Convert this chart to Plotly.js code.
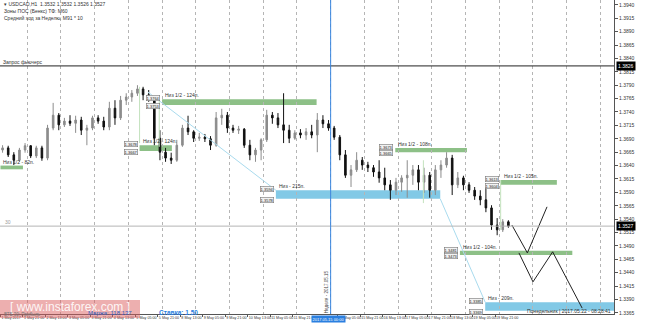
<!DOCTYPE html>
<html><head><meta charset="utf-8">
<script src="https://cdn.plot.ly/plotly-3.0.1.min.js"></script>
<style>html,body{margin:0;padding:0;background:#fff;}#chart{width:665px;height:324px;}</style>
</head><body><div id="chart"></div>
<script>
// ---- H4-aggregated USDCAD candles ----
const candleTime = [
'2017-05-01 06:30','2017-05-01 10:30','2017-05-01 14:30','2017-05-01 18:30','2017-05-01 22:30',
'2017-05-02 02:30','2017-05-02 06:30','2017-05-02 10:30','2017-05-02 14:30','2017-05-02 18:30','2017-05-02 22:30',
'2017-05-03 02:30','2017-05-03 06:30','2017-05-03 10:30','2017-05-03 14:30','2017-05-03 18:30','2017-05-03 22:30',
'2017-05-04 02:30','2017-05-04 06:30','2017-05-04 10:30','2017-05-04 14:30','2017-05-04 18:30','2017-05-04 22:30',
'2017-05-05 02:30','2017-05-05 06:30','2017-05-05 10:30','2017-05-05 14:30','2017-05-05 18:30','2017-05-05 22:30',
'2017-05-08 02:30','2017-05-08 06:30','2017-05-08 10:30','2017-05-08 14:30','2017-05-08 18:30','2017-05-08 22:30',
'2017-05-09 02:30','2017-05-09 06:30','2017-05-09 10:30','2017-05-09 14:30','2017-05-09 18:30','2017-05-09 22:30',
'2017-05-10 02:30','2017-05-10 06:30','2017-05-10 10:30','2017-05-10 14:30','2017-05-10 18:30','2017-05-10 22:30',
'2017-05-11 02:30','2017-05-11 06:30','2017-05-11 10:30','2017-05-11 14:30','2017-05-11 18:30','2017-05-11 22:30',
'2017-05-12 02:30','2017-05-12 06:30','2017-05-12 10:30','2017-05-12 14:30','2017-05-12 18:30','2017-05-12 22:30',
'2017-05-15 02:30','2017-05-15 06:30','2017-05-15 10:30','2017-05-15 14:30','2017-05-15 18:30','2017-05-15 22:30',
'2017-05-16 02:30','2017-05-16 06:30','2017-05-16 10:30','2017-05-16 14:30','2017-05-16 18:30','2017-05-16 22:30',
'2017-05-17 02:30','2017-05-17 06:30','2017-05-17 10:30','2017-05-17 14:30','2017-05-17 18:30','2017-05-17 22:30',
'2017-05-18 02:30','2017-05-18 06:30','2017-05-18 10:30','2017-05-18 14:30','2017-05-18 18:30','2017-05-18 22:30',
'2017-05-19 02:30','2017-05-19 06:30','2017-05-19 10:30','2017-05-19 14:30','2017-05-19 18:30','2017-05-19 22:30',
'2017-05-22 02:30','2017-05-22 06:30'];
const openP = [
1.3669,1.3673,1.3660,1.3650,1.3669,1.3677,1.3658,1.3673,1.3654,1.3710,
1.3734,1.3716,1.3723,1.3719,1.3725,1.3706,1.3710,1.3729,1.3723,1.3712,
1.3747,1.3729,1.3762,1.3768,1.3775,1.3783,1.3772,1.3762,1.3691,1.3665,
1.3654,1.3650,1.3678,1.3710,1.3703,1.3691,1.3693,1.3690,1.3678,1.3729,
1.3734,1.3710,1.3706,1.3708,1.3678,1.3660,1.3669,1.3688,1.3734,1.3729,
1.3716,1.3706,1.3691,1.3701,1.3697,1.3703,1.3697,1.3725,1.3718,1.3710,
1.3693,1.3660,1.3622,1.3632,1.3650,1.3641,1.3636,1.3628,1.3617,1.3604,
1.3594,1.3609,1.3617,1.3622,1.3632,1.3609,1.3622,1.3594,1.3632,1.3641,
1.3654,1.3604,1.3617,1.3604,1.3594,1.3583,1.3576,1.3561,1.3529,1.3520,
1.3535];
const highP = [
1.3678,1.3677,1.3665,1.3673,1.3682,1.3678,1.3677,1.3677,1.3716,1.3757,
1.3738,1.3729,1.3734,1.3733,1.3731,1.3716,1.3733,1.3734,1.3731,1.3759,
1.3762,1.3770,1.3775,1.3781,1.3790,1.3787,1.3781,1.3766,1.3706,1.3673,
1.3664,1.3688,1.3716,1.3733,1.3706,1.3701,1.3699,1.3695,1.3740,1.3746,
1.3740,1.3716,1.3714,1.3710,1.3688,1.3673,1.3691,1.3744,1.3740,1.3738,
1.3775,1.3716,1.3706,1.3708,1.3710,1.3716,1.3738,1.3734,1.3725,1.3714,
1.3697,1.3669,1.3641,1.3665,1.3656,1.3647,1.3641,1.3650,1.3636,1.3613,
1.3617,1.3622,1.3650,1.3641,1.3641,1.3636,1.3628,1.3641,1.3650,1.3665,
1.3660,1.3628,1.3621,1.3609,1.3600,1.3594,1.3600,1.3566,1.3542,1.3540,
1.3538];
const lowP = [
1.3664,1.3656,1.3641,1.3647,1.3664,1.3654,1.3654,1.3649,1.3650,1.3706,
1.3706,1.3712,1.3714,1.3701,1.3697,1.3678,1.3706,1.3718,1.3706,1.3706,
1.3716,1.3725,1.3753,1.3759,1.3770,1.3762,1.3759,1.3678,1.3650,1.3647,
1.3643,1.3647,1.3675,1.3697,1.3684,1.3686,1.3684,1.3669,1.3675,1.3716,
1.3701,1.3701,1.3699,1.3673,1.3650,1.3647,1.3650,1.3684,1.3718,1.3710,
1.3682,1.3682,1.3688,1.3691,1.3688,1.3691,1.3665,1.3710,1.3705,1.3688,
1.3650,1.3617,1.3600,1.3628,1.3632,1.3628,1.3619,1.3608,1.3594,1.3576,
1.3585,1.3591,1.3580,1.3604,1.3594,1.3589,1.3580,1.3585,1.3617,1.3636,
1.3585,1.3598,1.3594,1.3589,1.3576,1.3566,1.3553,1.3520,1.3510,1.3516,
1.3524];
const closeP = [
1.3673,1.3660,1.3650,1.3669,1.3677,1.3658,1.3673,1.3654,1.3710,1.3734,
1.3716,1.3723,1.3719,1.3725,1.3706,1.3710,1.3729,1.3723,1.3712,1.3747,
1.3729,1.3762,1.3768,1.3775,1.3783,1.3772,1.3762,1.3691,1.3665,1.3654,
1.3650,1.3678,1.3710,1.3703,1.3691,1.3693,1.3690,1.3678,1.3729,1.3734,
1.3710,1.3706,1.3708,1.3678,1.3660,1.3669,1.3688,1.3734,1.3729,1.3716,
1.3706,1.3691,1.3701,1.3697,1.3703,1.3697,1.3725,1.3718,1.3710,1.3693,
1.3660,1.3622,1.3632,1.3650,1.3641,1.3636,1.3628,1.3617,1.3604,1.3594,
1.3609,1.3617,1.3622,1.3632,1.3609,1.3622,1.3594,1.3632,1.3641,1.3654,
1.3604,1.3617,1.3604,1.3594,1.3583,1.3576,1.3561,1.3529,1.3520,1.3535,
1.3527];

// ---- axes ----
const xTickVals = ['2017-05-01 05:00','2017-05-01 21:00','2017-05-02 13:00','2017-05-03 05:00','2017-05-03 21:00',
'2017-05-04 13:00','2017-05-05 05:00','2017-05-05 21:00','2017-05-08 13:00','2017-05-09 05:00','2017-05-09 21:00',
'2017-05-10 13:00','2017-05-11 05:00','2017-05-11 21:00','2017-05-15 05:00','2017-05-15 21:00',
'2017-05-16 13:00','2017-05-17 05:00','2017-05-17 21:00','2017-05-18 13:00','2017-05-19 05:00','2017-05-19 21:00'];
const xTickText = ['1 May 2017','1 May 21:00','2 May 13:00','3 May 05:00','3 May 21:00','4 May 13:00','5 May 05:00',
'5 May 21:00','8 May 13:00','9 May 05:00','9 May 21:00','10 May 13:00','11 May 05:00','11 May 21:00',
'15 May 05:00','15 May 21:00','16 May 13:00','17 May 05:00','17 May 21:00','18 May 13:00','19 May 05:00','19 May 21:00'];
const dayGrid = ['2017-05-02','2017-05-03','2017-05-04','2017-05-05','2017-05-08','2017-05-09','2017-05-10',
'2017-05-11','2017-05-12','2017-05-15','2017-05-16','2017-05-17','2017-05-18','2017-05-19','2017-05-22',
'2017-05-23','2017-05-24','2017-05-25'];
const yTickVals = [1.3940,1.3915,1.3890,1.3865,1.3840,1.3815,1.3790,1.3765,1.3740,1.3715,1.3690,1.3665,
1.3640,1.3615,1.3590,1.3565,1.3540,1.3515,1.3490,1.3465,1.3440,1.3415,1.3390,1.3365];
const xRange = ['2017-05-01 04:40','2017-05-25 09:40'];
const yRange = [1.3363, 1.3949];

// ---- levels and drawings ----
const bidPrice = 1.3527;
const futuresPrice = 1.3826;
const weekLineTime = '2017-05-15 00:00';
const zoneStart = ['2017-05-01 05:00','2017-05-08 00:00','2017-05-05 08:00','2017-05-11 09:00','2017-05-16 22:00','2017-05-22 01:00','2017-05-18 20:00','2017-05-19 14:00'];
const zoneEnd = ['2017-05-01 21:00','2017-05-12 14:00','2017-05-08 07:00','2017-05-18 06:00','2017-05-19 01:00','2017-05-23 17:00','2017-05-24 04:00','2017-05-25 12:00'];
const zoneTop = [1.3640,1.3764,1.3678,1.3594,1.3673,1.3613,1.3481,1.3385];
const zoneBottom = [1.3633,1.3753,1.3667,1.3578,1.3665,1.3604,1.3473,1.3369];
const zoneKind = ['g','g','g','b','g','g','g','b'];
const zoneLabel = ['Низ 1/2 - 82п.','Низ 1/2 - 124п.','Низ 1/2 - 124п.','Низ - 215п.','Низ 1/2 - 108п.','Низ 1/2 - 105п.','Низ 1/2 - 104п.','Низ - 209п.'];
const zonePriceTags = [false,true,true,true,true,true,true,true];
const diag1X = ['2017-05-05 14:00','2017-05-11 09:00'], diag1Y = [1.3777,1.3594];
const diag2X = ['2017-05-18 06:00','2017-05-19 14:00'], diag2Y = [1.3578,1.3385];
const zigAX = ['2017-05-22 09:00','2017-05-22 20:00','2017-05-23 10:00'], zigAY = [1.3529,1.3477,1.3563];
const zigBX = ['2017-05-22 14:00','2017-05-23 00:00','2017-05-23 14:00','2017-05-24 11:00'], zigBY = [1.3477,1.3423,1.3479,1.3374];
const guideX = ['2017-05-05 08:00','2017-05-05 22:00','2017-05-17 18:00','2017-05-22 01:00'];
const guideTop = [1.3787,1.3762,1.3650,1.3613];
const guideBottom = [1.3682,1.3675,1.3570,1.3520];

const FONT = 'Liberation Sans, Arial, sans-serif';
const GREEN = '#8dc087', BLUE = '#82c9e6';

const traces = [
  {type:'candlestick', x:candleTime, open:openP, high:highP, low:lowP, close:closeP,
   increasing:{line:{color:'#8c8c8c', width:1}, fillcolor:'#8c8c8c'},
   decreasing:{line:{color:'#111111', width:1}, fillcolor:'#111111'},
   whiskerwidth:0, hoverinfo:'skip', showlegend:false},
  {type:'scatter', mode:'lines', x:diag1X, y:diag1Y, line:{color:'#a9dbee', width:1}, hoverinfo:'skip', showlegend:false},
  {type:'scatter', mode:'lines', x:diag2X, y:diag2Y, line:{color:'#a9dbee', width:1}, hoverinfo:'skip', showlegend:false},
  {type:'scatter', mode:'lines', x:zigAX, y:zigAY, line:{color:'#222', width:1}, hoverinfo:'skip', showlegend:false},
  {type:'scatter', mode:'lines', x:zigBX, y:zigBY, line:{color:'#222', width:1}, hoverinfo:'skip', showlegend:false}
];
guideX.forEach((gx,i)=>traces.push({type:'scatter', mode:'lines', x:[gx,gx], y:[guideTop[i],guideBottom[i]],
  line:{color:'#c3e2bd', width:1}, hoverinfo:'skip', showlegend:false}));

const shapes = [];
zoneStart.forEach((s,i)=>{
  shapes.push({type:'rect', xref:'x', yref:'y', x0:s, x1:zoneEnd[i], y0:zoneBottom[i], y1:zoneTop[i],
    fillcolor: zoneKind[i]==='g'?GREEN:BLUE, line:{width:0}, layer:'below'});
});
shapes.push({type:'line', xref:'paper', yref:'y', x0:0, x1:1, y0:bidPrice, y1:bidPrice, line:{color:'#b4b4b4', width:1}});
shapes.push({type:'line', xref:'paper', yref:'y', x0:0, x1:1, y0:futuresPrice, y1:futuresPrice, line:{color:'#222', width:1}});
shapes.push({type:'line', xref:'x', yref:'paper', x0:weekLineTime, x1:weekLineTime, y0:0, y1:1, line:{color:'#3a86e0', width:1}});
// watermark box
shapes.push({type:'rect', xref:'paper', yref:'paper', x0:0, x1:140/614, y0:(314-318)/314, y1:(314-300)/314,
  fillcolor:'rgba(220,95,95,0.5)', line:{width:0}, layer:'above'});

const ann = [];
const px = v => v/614, py = v => (314-v)/314;
function txt(x,y,t,opt){ ann.push(Object.assign({xref:'paper', yref:'paper', x:px(x), y:py(y), text:t, showarrow:false,
  xanchor:'left', yanchor:'middle', font:{family:FONT, size:5, color:'#333'}}, opt||{})); }
txt(2,4,'▾ USDCAD,H1  1.3532 1.3532 1.3526 1.3527');
txt(2,11,'Зоны ПОС (Бенкс) ТФ: M60');
txt(2,18,'Средний ход за Неделю: M91 * 10');
txt(1,62,'Запрос фьючерс');
txt(3,222,'30',{font:{family:FONT,size:5,color:'#999'}});
txt(613,311,'Понедельник | 2017.05.22 - 08:28:41',{xanchor:'right'});
txt(70,307,'[ www.instaforex.com ]',{xanchor:'center', font:{family:FONT,size:12,color:'rgba(255,255,255,0.9)'}});
txt(2,314,'ВТБ 30: Прибыль',{font:{family:FONT,size:4.5,color:'#777'}});
txt(86,313,'Маржа: 118 137',{font:{family:FONT,size:6,color:'#2f62c0'}});
txt(157,312,'<b>Ставка: 1.50</b>',{font:{family:FONT,size:6.5,color:'#2a7fe0'}});

zoneStart.forEach((s,i)=>{
  ann.push({xref:'x', yref:'y', x:s, y:zoneTop[i], text:zoneLabel[i], showarrow:false, xanchor:'left', yanchor:'bottom',
    xshift:1, yshift:-1, font:{family:FONT, size:5, color:'#333'}});
  if (zonePriceTags[i]) {
    [zoneTop[i], zoneBottom[i]].forEach((p,j)=>ann.push({xref:'x', yref:'y', x:s, y:p, text:p.toFixed(4), showarrow:false,
      xanchor:'right', yanchor:'middle', xshift:-2, yshift: j===0?1:-1, bgcolor:'#f2f2f2', bordercolor:'#777', borderwidth:0.6, borderpad:0,
      font:{family:FONT, size:4, color:'#222'}}));
  }
});
// right-axis highlighted prices
[futuresPrice, bidPrice].forEach(p=>ann.push({xref:'paper', yref:'y', x:1, y:p, text:p.toFixed(4), showarrow:false,
  xanchor:'left', yanchor:'middle', xshift:2, bgcolor:'#000', borderpad:1, font:{family:FONT, size:5, color:'#fff'}}));
// week line labels
ann.push({xref:'x', yref:'paper', x:weekLineTime, y:0, text:'2017.05.15 00:00', showarrow:false, xanchor:'center', yanchor:'top',
  xshift:-2, yshift:-1, bgcolor:'#2a7fe0', borderpad:0.5, font:{family:FONT, size:4, color:'#fff'}});
ann.push({xref:'x', yref:'paper', x:weekLineTime, y:py(292), text:'Неделя - 2017.05.15', showarrow:false, textangle:-90,
  xanchor:'right', yanchor:'middle', xshift:0, font:{family:FONT, size:4.5, color:'#444'}});

const layout = {
  width:665, height:324, margin:{l:0, r:51, t:0, b:10, pad:0},
  paper_bgcolor:'#fff', plot_bgcolor:'#fff', showlegend:false, boxgap:0.6,
  font:{family:FONT, size:5, color:'#333'},
  xaxis:{type:'date', range:xRange, rangebreaks:[{bounds:['sat','mon']}], rangeslider:{visible:false},
    tickmode:'array', tickvals:xTickVals, ticktext:xTickText, ticklabelposition:'outside right', tickangle:0,
    tickfont:{family:FONT, size:3.7, color:'#333'}, ticks:'outside', ticklen:2, tickcolor:'#555',
    showgrid:false, showline:true, linecolor:'#555', linewidth:1, zeroline:false,
    minor:{tickmode:'array', tickvals:dayGrid, showgrid:true, gridcolor:'#b5b5b5', griddash:'dot', gridwidth:1, ticks:''}},
  yaxis:{side:'right', range:yRange, tickmode:'array', tickvals:yTickVals, tickformat:'.4f',
    tickfont:{family:FONT, size:5, color:'#333'}, ticks:'outside', ticklen:3, tickcolor:'#555',
    showgrid:false, showline:true, linecolor:'#555', linewidth:1, zeroline:false},
  shapes:shapes, annotations:ann
};
Plotly.newPlot('chart', traces, layout, {staticPlot:true, displayModeBar:false});
</script></body></html>
